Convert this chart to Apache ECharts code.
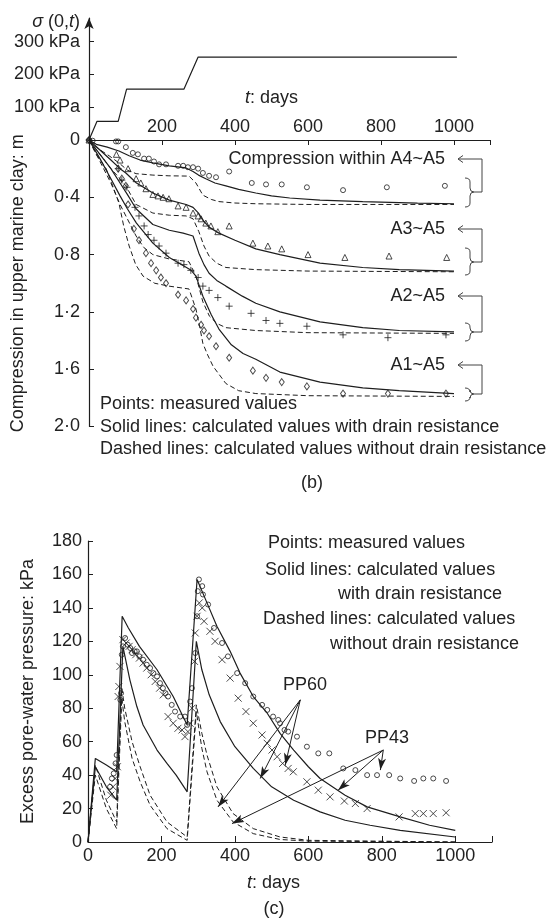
<!DOCTYPE html>
<html><head><meta charset="utf-8">
<script src="https://cdn.jsdelivr.net/npm/echarts@6/dist/echarts.min.js"></script>
<style>html,body{margin:0;padding:0;background:#fff}#c{width:556px;height:918px}</style>
</head><body><div id="c"></div>
<script>
// ---------- (b) load history: [t (days), sigma (kPa)]
const loadHistory = [[0,0],[22,57],[80,57],[103,155],[260,155],[299,253],[1008,253]];

// ---------- (b) compression: [t (days), compression (m)]
const a4Solid = [[0,0],[20,0.03],[50,0.05],[82,0.077],[110,0.11],[140,0.14],[175,0.16],[220,0.18],[266,0.195],[285,0.22],[300,0.245],[320,0.27],[345,0.3],[375,0.32],[410,0.345],[457,0.37],[500,0.39],[550,0.405],[633,0.42],[750,0.43],[900,0.44],[1000,0.445]];
const a4Dashed = [[0,0],[25,0.06],[55,0.11],[82,0.16],[105,0.21],[129,0.235],[175,0.245],[219,0.25],[274,0.252],[293,0.3],[312,0.385],[335,0.415],[356,0.43],[400,0.44],[457,0.445],[600,0.45],[1000,0.45]];
const a4Measured = [[0,0],[10,0.005],[74,0.01],[80,0.01],[101,0.05],[120,0.09],[134,0.1],[151,0.13],[164,0.13],[178,0.15],[192,0.17],[211,0.17],[244,0.18],[258,0.18],[271,0.19],[285,0.19],[299,0.2],[312,0.23],[329,0.25],[348,0.26],[384,0.22],[446,0.3],[485,0.31],[528,0.31],[597,0.33],[696,0.35],[816,0.33],[975,0.32]];

const a3Solid = [[0,0],[30,0.07],[60,0.14],[85,0.2],[101,0.23],[130,0.3],[175,0.37],[220,0.42],[266,0.45],[285,0.47],[300,0.51],[312,0.56],[330,0.61],[356,0.65],[400,0.7],[457,0.76],[523,0.8],[633,0.86],[750,0.89],[850,0.905],[1000,0.915]];
const a3Dashed = [[0,0],[30,0.1],[60,0.2],[85,0.27],[101,0.32],[129,0.45],[175,0.51],[220,0.525],[266,0.53],[285,0.55],[301,0.64],[315,0.74],[329,0.81],[350,0.86],[375,0.89],[457,0.905],[600,0.915],[1000,0.92]];
const a3Measured = [[0,0],[75,0.1],[85,0.14],[107,0.2],[129,0.27],[142,0.3],[156,0.34],[175,0.38],[189,0.39],[203,0.4],[219,0.41],[244,0.46],[266,0.47],[285,0.51],[299,0.53],[307,0.55],[320,0.58],[334,0.6],[353,0.64],[384,0.6],[449,0.72],[490,0.74],[528,0.76],[600,0.8],[701,0.82],[822,0.81],[980,0.82]];

const a2Solid = [[0,0],[30,0.1],[60,0.2],[85,0.3],[105,0.38],[129,0.48],[175,0.59],[220,0.63],[258,0.65],[285,0.67],[301,0.79],[315,0.87],[329,0.93],[350,0.98],[375,1.02],[420,1.09],[457,1.14],[523,1.2],[633,1.27],[750,1.31],[850,1.33],[1000,1.34]];
const a2Dashed = [[0,0],[30,0.15],[60,0.3],[85,0.45],[105,0.55],[129,0.67],[150,0.75],[175,0.8],[219,0.83],[274,0.85],[293,0.95],[312,1.13],[330,1.23],[350,1.28],[375,1.31],[457,1.33],[600,1.345],[1000,1.35]];
const a2Measured = [[0,0],[80,0.2],[90,0.28],[104,0.33],[126,0.47],[137,0.53],[151,0.6],[162,0.66],[178,0.7],[192,0.74],[211,0.79],[244,0.86],[260,0.87],[279,0.91],[299,0.96],[312,1.02],[329,1.05],[353,1.1],[384,1.16],[444,1.21],[485,1.26],[523,1.28],[597,1.3],[696,1.36],[819,1.38],[978,1.36]];

const a1Solid = [[0,0],[30,0.13],[60,0.27],[85,0.39],[105,0.48],[130,0.58],[175,0.72],[220,0.82],[260,0.88],[280,0.91],[293,0.95],[312,1.09],[335,1.22],[356,1.32],[390,1.43],[422,1.49],[457,1.53],[523,1.62],[633,1.69],[750,1.73],[850,1.75],[1000,1.77]];
const a1Dashed = [[0,0],[20,0.1],[47,0.2],[65,0.32],[82,0.44],[95,0.6],[110,0.74],[128,0.87],[148,0.95],[180,1.0],[219,1.02],[274,1.04],[293,1.18],[303,1.3],[312,1.42],[325,1.5],[340,1.58],[375,1.7],[410,1.75],[457,1.77],[600,1.785],[1000,1.79]];
const a1Measured = [[0,0],[80,0.2],[90,0.27],[101,0.32],[107,0.45],[123,0.62],[137,0.7],[156,0.79],[170,0.86],[184,0.91],[197,0.96],[211,1.0],[244,1.08],[266,1.12],[285,1.18],[293,1.24],[307,1.29],[315,1.33],[329,1.37],[348,1.44],[384,1.52],[449,1.61],[485,1.66],[528,1.69],[597,1.72],[696,1.77],[819,1.77],[978,1.77]];

// ---------- (c) excess pore-water pressure: [t (days), u (kPa)]
const ppSolidUpper = [[0,0],[20,50],[50,46],[78,42],[93,135],[110,128],[140,117],[188,103],[232,87],[270,70],[297,157],[324,143],[351,129],[387,114],[414,101],[450,87],[488,77],[523,65],[560,55],[600,45],[632,38],[700,28],[760,21],[850,15],[930,10],[1000,7]];
const ppSolidLower = [[0,0],[20,45],[50,33],[78,25],[95,117],[114,97],[133,81],[150,70],[188,55],[215,47],[240,40],[270,30],[295,120],[310,103],[330,88],[360,72],[400,57],[450,44],[500,33],[560,25],[632,18],[700,13],[768,10],[850,7],[1000,3]];
const ppDashedUpper = [[0,0],[20,46],[50,25],[78,12],[92,92],[100,80],[120,60],[142,45],[169,28],[215,12],[270,3],[295,82],[310,65],[324,52],[351,33],[395,17],[450,8],[523,3],[600,1],[1000,0]];
const ppDashedLower = [[0,0],[20,40],[50,20],[78,8],[92,86],[100,72],[120,50],[142,36],[169,22],[215,8],[270,1],[295,78],[310,56],[324,42],[351,25],[395,12],[450,5],[523,1.5],[600,0.5],[1000,0]];
const pp60Measured = [[60,33],[65,38],[70,41],[75,47],[78,52],[88,85],[90,89],[92,112],[95,117],[101,122],[108,118],[115,116],[120,113],[127,114],[133,114],[140,111],[150,109],[160,106],[169,104],[178,101],[188,99],[196,95],[204,92],[211,89],[218,87],[228,82],[237,78],[251,75],[264,75],[270,70],[278,84],[283,92],[292,113],[297,135],[299,150],[302,157],[311,153],[313,148],[327,142],[343,128],[365,119],[381,111],[406,101],[428,95],[450,87],[474,82],[488,79],[504,75],[518,73],[523,71],[535,67],[545,66],[569,63],[596,57],[627,53],[657,53],[695,44],[728,43],[760,40],[787,40],[820,40],[850,38],[888,36.5],[913,38],[940,38],[975,36.5]];
const pp43Measured = [[62,28],[68,33],[74,38],[80,45],[82,87],[84,93],[87,105],[95,121],[104,119],[112,117],[120,115],[130,112],[140,110],[150,107],[160,104],[172,100],[183,96],[195,92],[205,88],[218,75],[232,71],[245,68],[256,67],[264,63],[272,66],[278,71],[283,80],[290,108],[292,125],[297,135],[303,143],[311,140],[316,132],[332,126],[346,120],[365,109],[387,98],[409,86],[430,78],[450,71],[474,64],[488,59],[501,55],[515,51],[530,47],[545,44],[559,42],[596,36],[627,31],[659,27],[698,24.5],[728,23],[760,20],[847,15],[891,17],[913,17],[940,17],[975,17.5]];
// annotation arrows (data coords): [from, to]
const pp60Arrows = [[[578,85],[354,21]],[[578,85],[469,38]],[[578,85],[537,46]]];
const pp43Arrows = [[[804,55],[392,11]],[[804,55],[681,31]],[[804,55],[796,43]]];

const FONT = 'Liberation Sans, Arial, sans-serif';
const INK = '#1e1e1e';
const TXT = '#222';

const chart = echarts.init(document.getElementById('c'), null, {renderer:'canvas'});

function solid(data, i){ return {type:'line', xAxisIndex:i, yAxisIndex:i, data, symbol:'none', showSymbol:false, silent:true, lineStyle:{color:INK, width:1.2}}; }
function dashed(data, i){ return {type:'line', xAxisIndex:i, yAxisIndex:i, data, symbol:'none', showSymbol:false, silent:true, lineStyle:{color:INK, width:1, type:[5,3]}}; }
function pts(data, i, symbol, size){ return {type:'scatter', xAxisIndex:i, yAxisIndex:i, data, symbol, symbolSize:size, silent:true, itemStyle:{color:'rgba(0,0,0,0)', borderColor:INK, borderWidth:1}}; }
function arrows(list){ return list.map(a => [{coord:a[0]},{coord:a[1]}]); }

const axisLineStyle = {show:true, lineStyle:{color:INK, width:1.2}};
const lblStyle = {color:TXT, fontSize:18, fontFamily:FONT};

const graphics = [];
function text(x, y, t, align, rich){
  graphics.push({type:'text', x, y, silent:true, style:{text:t, x:0, y:0, align:align||'left', verticalAlign:'middle', fill:TXT, font:'18px ' + FONT, rich: rich || {}}});
}
function line(points, color){
  graphics.push({type:'polyline', silent:true, shape:{points}, style:{stroke:color||'#444', lineWidth:1, fill:null}});
}
function bez(x1,y1,cx,cy,x2,y2){
  graphics.push({type:'bezierCurve', silent:true, shape:{x1,y1,cpx1:cx,cpy1:cy,x2,y2}, style:{stroke:'#444', lineWidth:1, fill:null}});
}
function brace(top, bottom, mid){
  const tip=465, sp=470, pt=474;
  bez(tip,top, sp,top, sp,top+4);
  line([[sp,top+4],[sp,mid-4]]);
  bez(sp,mid-4, sp,mid, pt,mid);
  bez(pt,mid, sp,mid, sp,mid+4);
  line([[sp,mid+4],[sp,bottom-4]]);
  bez(sp,bottom-4, sp,bottom, tip,bottom);
}
function connector(labelY, mid){
  line([[463,labelY-3.5],[458,labelY],[463,labelY+3.5]]);
  line([[458,labelY],[482,labelY],[482,mid],[474,mid]]);
}

const italic = {i:{fontStyle:'italic', fontSize:18, fontFamily:FONT, fill:TXT}};
text(80, 22, '{i|σ} (0,{i|t})', 'right', italic);
text(245, 98, '{i|t}: days', 'left', italic);
text(445, 159, 'Compression within A4~A5', 'right');
text(445, 229, 'A3~A5', 'right');
text(445, 296, 'A2~A5', 'right');
text(445, 365, 'A1~A5', 'right');
connector(159, 192); brace(178, 207, 192);
connector(229, 262); brace(248, 275, 262);
connector(296, 332); brace(323, 341, 332);
connector(365, 394); brace(388, 401, 394);
text(100, 404, 'Points: measured values');
text(100, 427, 'Solid lines: calculated values with drain resistance');
text(100, 449, 'Dashed lines: calculated values without drain resistance');
text(312, 483, '(b)', 'center');

text(268, 543, 'Points: measured values');
text(265, 570, 'Solid lines: calculated values');
text(338, 594, 'with drain resistance');
text(263, 619, 'Dashed lines: calculated values');
text(330, 644, 'without drain resistance');
text(283, 685, 'PP60');
text(365, 738, 'PP43');
text(247, 883, '{i|t}: days', 'left', italic);
text(274, 909, '(c)', 'center');

const plain = v => String(v);

const option = {
  animation:false,
  backgroundColor:'#fff',
  textStyle:{fontFamily:FONT},
  grid:[
    {left:89, top:18, width:401.5, height:122},
    {left:89, top:140, width:401.5, height:286.5},
    {left:88, top:541, width:404, height:301}
  ],
  xAxis:[
    {gridIndex:0, type:'value', min:0, max:1100, show:false},
    {gridIndex:1, type:'value', position:'top', min:0, max:1100, interval:200,
      axisLine:axisLineStyle,
      axisTick:{show:true, inside:true, length:5, lineStyle:{color:INK}, customValues:[200,400,600,800,1000,1100]},
      axisLabel:Object.assign({margin:4, formatter:plain, customValues:[200,400,600,800,1000]}, lblStyle),
      splitLine:{show:false}},
    {gridIndex:2, type:'value', position:'bottom', min:0, max:1100, interval:200,
      axisLine:axisLineStyle,
      axisTick:{show:true, inside:true, length:6, lineStyle:{color:INK}, customValues:[200,400,600,800,1000,1100]},
      axisLabel:Object.assign({margin:5, formatter:plain, customValues:[0,200,400,600,800,1000]}, lblStyle),
      splitLine:{show:false}}
  ],
  yAxis:[
    {gridIndex:0, type:'value', min:0, max:372,
      axisLine:{show:true, symbol:['none','arrow'], symbolSize:[7,11], lineStyle:{color:INK, width:1.2}},
      axisTick:{show:true, inside:true, length:5, lineStyle:{color:INK}, customValues:[100,200,300]},
      axisLabel:Object.assign({margin:9, customValues:[100,200,300], formatter:v => v + ' kPa'}, lblStyle),
      splitLine:{show:false}},
    {gridIndex:1, type:'value', inverse:true, min:0, max:2, interval:0.4,
      axisLine:axisLineStyle,
      axisTick:{show:true, inside:true, length:5, lineStyle:{color:INK}},
      axisLabel:Object.assign({margin:9, formatter:v => v === 0 ? '0' : v.toFixed(1).replace('.', '·')}, lblStyle),
      splitLine:{show:false},
      name:'Compression in upper marine clay: m', nameLocation:'middle', nameRotate:90, nameGap:62,
      nameTextStyle:{color:TXT, fontSize:18, fontFamily:FONT}},
    {gridIndex:2, type:'value', min:0, max:180, interval:20,
      axisLine:axisLineStyle,
      axisTick:{show:true, inside:true, length:5, lineStyle:{color:INK}},
      axisLabel:Object.assign({margin:6}, lblStyle),
      splitLine:{show:false},
      name:'Excess pore-water pressure: kPa', nameLocation:'middle', nameRotate:90, nameGap:51,
      nameTextStyle:{color:TXT, fontSize:18, fontFamily:FONT}}
  ],
  series:[
    solid(loadHistory, 0),
    solid(a4Solid, 1), dashed(a4Dashed, 1), pts(a4Measured, 1, 'circle', 5),
    solid(a3Solid, 1), dashed(a3Dashed, 1), pts(a3Measured, 1, 'triangle', 6),
    solid(a2Solid, 1), dashed(a2Dashed, 1), pts(a2Measured, 1, 'path://M5,0L5,10M0,5L10,5', 7),
    solid(a1Solid, 1), dashed(a1Dashed, 1), pts(a1Measured, 1, 'diamond', [5,7]),
    solid(ppSolidUpper, 2), solid(ppSolidLower, 2),
    dashed(ppDashedUpper, 2), dashed(ppDashedLower, 2),
    pts(pp60Measured, 2, 'circle', 5),
    pts(pp43Measured, 2, 'path://M0,0L10,10M10,0L0,10', 7),
    {type:'line', xAxisIndex:2, yAxisIndex:2, data:[], silent:true,
      markLine:{silent:true, symbol:['none','arrow'], symbolSize:[6,12], label:{show:false},
        lineStyle:{color:INK, width:1, type:'solid'},
        data: arrows(pp60Arrows).concat(arrows(pp43Arrows))}}
  ],
  graphic: graphics
};
chart.setOption(option);
</script></body></html>
